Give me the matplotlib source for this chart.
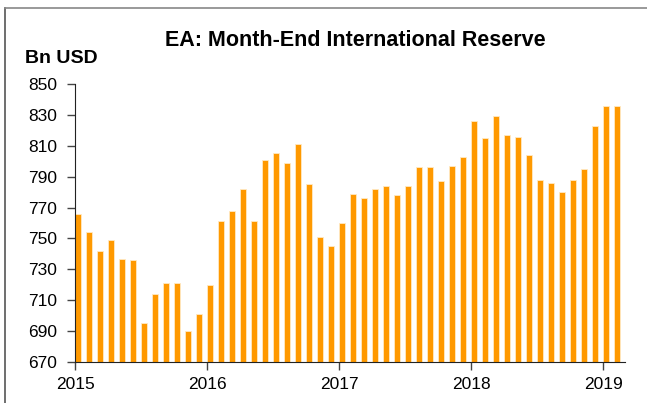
import numpy as np
import matplotlib
matplotlib.use('Agg')
import matplotlib.pyplot as plt

# --- data: month-end reserves, Jan 2015 .. Feb 2019 (Bn USD) ---
reserves_2015 = [766, 754, 742, 749, 737, 736, 695, 714, 721, 721, 690, 701]
reserves_2016 = [720, 761, 768, 782, 761, 801, 805, 799, 811, 785, 751, 745]
reserves_2017 = [760, 779, 776, 782, 784, 778, 784, 796, 796, 787, 797, 803]
reserves_2018 = [826, 815, 829, 817, 816, 804, 788, 786, 780, 788, 795, 823]
reserves_2019 = [836, 836]
year_labels = ['2015', '2016', '2017', '2018', '2019']
y_ticks = [670, 690, 710, 730, 750, 770, 790, 810, 830, 850]

values = reserves_2015 + reserves_2016 + reserves_2017 + reserves_2018 + reserves_2019
months = np.arange(len(values))

plt.rcParams['font.family'] = ['Liberation Sans', 'DejaVu Sans']

fig = plt.figure(figsize=(6.47, 4.03), dpi=100)
ax = fig.add_axes([0.116, 0.1017, 0.85, 0.6899])

ax.bar(months, np.array(values) - 670, bottom=670, width=0.56, align='edge',
       color='#FF9900', edgecolor='#FFE9C4', linewidth=0.6)

ax.set_xlim(0, 50)
ax.set_ylim(670, 850)
ax.set_yticks(y_ticks)
ax.set_xticks([0, 12, 24, 36, 48])
ax.set_xticklabels(year_labels)

for s in ['top', 'right']:
    ax.spines[s].set_visible(False)
ax.spines['left'].set_color('#222222')
ax.spines['bottom'].set_color('#222222')
ax.tick_params(axis='both', labelsize=12.5, length=6, width=1, color='#444444', pad=7)
ax.tick_params(axis='x', pad=5)

fig.text(0.549, 0.90, 'EA: Month-End International Reserve', ha='center', va='center',
         fontsize=15.5, fontweight='bold')
fig.text(0.039, 0.855, 'Bn USD', ha='left', va='center', fontsize=14, fontweight='bold')

# outer frame lines of the original screenshot
fig.add_artist(plt.Line2D([0.008, 0.008], [0, 0.98], transform=fig.transFigure,
                          color='#555555', linewidth=1.2))
fig.add_artist(plt.Line2D([0.008, 1], [0.98, 0.98], transform=fig.transFigure,
                          color='#888888', linewidth=1.2))

fig.savefig('out.png', dpi=100)
